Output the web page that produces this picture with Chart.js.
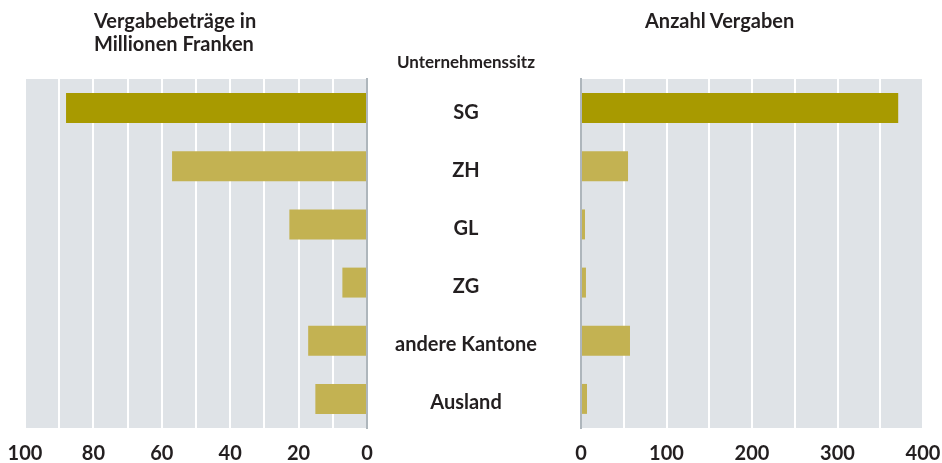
<!DOCTYPE html>
<html>
<head>
<meta charset="utf-8">
<script src="https://cdn.jsdelivr.net/npm/chart.js@4/dist/chart.umd.min.js"></script>
<style>
  body { margin: 0; background: #fff; font-family: Lato, sans-serif; color: #231f20; }
  #wrap { position: relative; width: 942px; height: 463px; overflow: hidden; }
  #left { position: absolute; left: 0; top: 0; }
  #right { position: absolute; left: 560px; top: 0; }
  .head { position: absolute; font-weight: bold; font-size: 20px; line-height: 23px; white-space: nowrap; }
  #hLeft { left: 94px; top: 9px; }
  #hRight { left: 645px; top: 9px; }
  #hMid { left: 366px; width: 200px; top: 52px; font-size: 17px; line-height: 20px; text-align: center; }
</style>
</head>
<body>
<div id="wrap">
  <canvas id="left" width="580" height="463"></canvas>
  <canvas id="right" width="382" height="463"></canvas>
  <div class="head" id="hLeft">Vergabebeträge in<br>Millionen Franken</div>
  <div class="head" id="hRight">Anzahl Vergaben</div>
  <div class="head" id="hMid">Unternehmenssitz</div>
</div>
<script>
const categories = ["SG", "ZH", "GL", "ZG", "andere Kantone", "Ausland"];
const amounts = [88, 57, 22.7, 7.2, 17.2, 15.1];   // Mio. Franken
const counts = [371, 55, 4.7, 5.8, 57.3, 7];       // Anzahl Vergaben
const amountTicks = [0, 20, 40, 60, 80, 100];
const countTicks = [0, 100, 200, 300, 400];

const dark = "#a89a00";
const light = "#c3b252";
const barColors = categories.map((c, i) => i === 0 ? dark : light);
const textColor = "#231f20";
const labelFont = { family: "Lato", size: 20, weight: "bold" };

// centre the category names in the gap between both panels
const m = document.createElement("canvas").getContext("2d");
m.font = "bold 20px Lato";
const widest = Math.max(...categories.map(c => m.measureText(c).width));
const labelPad = 91 - widest / 2;

const plotBg = {
    id: "plotBg",
    beforeDraw(chart) {
        const { ctx, chartArea: a } = chart;
        ctx.save();
        ctx.fillStyle = "#dfe3e7";
        ctx.fillRect(a.left, a.top, a.right - a.left, a.bottom - a.top);
        ctx.restore();
    }
};

function xAxis(max, step, shown, reverse) {
    return {
        type: "linear",
        min: 0,
        max: max,
        reverse: reverse,
        grid: { color: "#ffffff", lineWidth: 2, drawTicks: false },
        border: { display: false },
        afterBuildTicks: s => {
            const t = [];
            for (let v = 0; v <= max; v += step) t.push({ value: v });
            s.ticks = t;
        },
        afterFit: s => {
            s.height = 35;
            s.paddingLeft = 0;
            s.paddingRight = 0;
        },
        ticks: {
            padding: 14,
            color: textColor,
            font: labelFont,
            maxRotation: 0,
            autoSkip: false,
            callback: v => shown.includes(v) ? v : ""
        }
    };
}

function noPad(width) {
    return s => {
        s.width = width;
        s.paddingTop = 0;
        s.paddingBottom = 0;
    };
}

new Chart(document.getElementById("left"), {
    type: "bar",
    data: {
        labels: categories,
        datasets: [{
            data: amounts,
            backgroundColor: barColors,
            barPercentage: 0.515,
            categoryPercentage: 1
        }]
    },
    options: {
        indexAxis: "y",
        responsive: false,
        animation: false,
        layout: { padding: { left: 25, top: 79, right: 0, bottom: 0 } },
        plugins: { legend: { display: false }, tooltip: { enabled: false } },
        scales: {
            x: xAxis(100, 10, amountTicks, true),
            y: {
                position: "right",
                grid: { display: false },
                border: { display: true, color: "#aeb6bc", width: 2 },
                afterFit: noPad(213),
                ticks: {
                    crossAlign: "center",
                    padding: labelPad,
                    labelOffset: 4,
                    color: textColor,
                    font: labelFont
                }
            }
        }
    },
    plugins: [plotBg]
});

new Chart(document.getElementById("right"), {
    type: "bar",
    data: {
        labels: categories,
        datasets: [{
            data: counts,
            backgroundColor: barColors,
            barPercentage: 0.515,
            categoryPercentage: 1
        }]
    },
    options: {
        indexAxis: "y",
        responsive: false,
        animation: false,
        layout: { padding: { left: 21, top: 79, right: 19, bottom: 0 } },
        plugins: { legend: { display: false }, tooltip: { enabled: false } },
        scales: {
            x: xAxis(400, 50, countTicks, false),
            y: {
                position: "left",
                grid: { display: false },
                border: { display: true, color: "#aeb6bc", width: 2 },
                afterFit: noPad(0),
                ticks: { display: false }
            }
        }
    },
    plugins: [plotBg]
});
</script>
</body>
</html>
